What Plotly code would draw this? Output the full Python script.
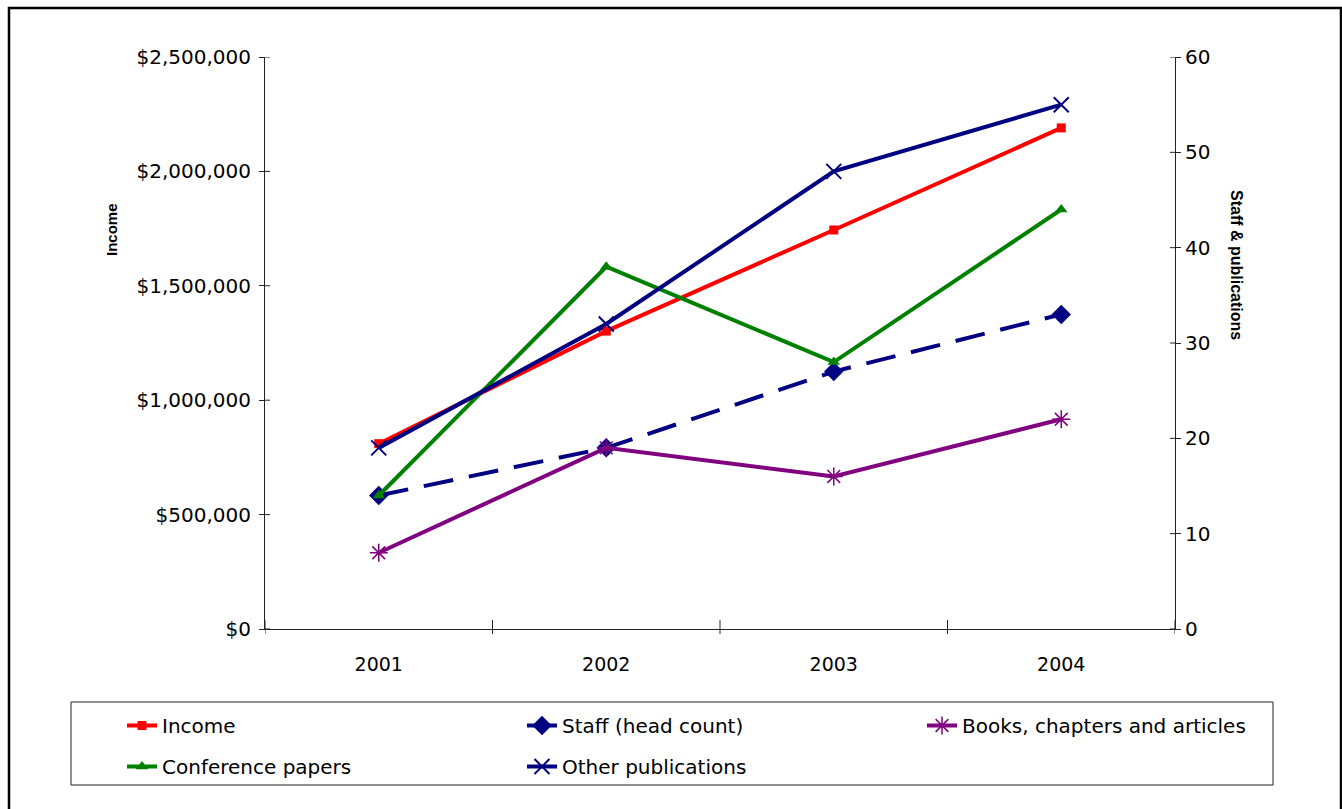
import plotly.graph_objects as go

years = [2001, 2002, 2003, 2004]
income = [810000, 1302000, 1744000, 2190000]
staff = [14, 19, 27, 33]
books = [8, 19, 16, 22]
conference = [14, 38, 28, 44]
other = [19, 32, 48, 55]

left_ticks = [0, 500000, 1000000, 1500000, 2000000, 2500000]
right_ticks = [0, 10, 20, 30, 40, 50, 60]
x_bounds = [2000.5, 2001.5, 2002.5, 2003.5, 2004.5]

FONT = "DejaVu Sans"
W, H = 1342, 809
L, R, T, B = 265, 167, 57, 180
pw = W - L - R
ph = H - T - B


def px_x(p):
    return (p - L) / pw


def px_y(p):
    return (H - B - p) / ph


fig = go.Figure()
fig.add_trace(go.Scatter(x=years, y=income, name="Income", mode="lines+markers", legend="legend",
                         line=dict(color="#FF0000", width=4),
                         marker=dict(symbol="square", size=9, color="#FF0000")))
fig.add_trace(go.Scatter(x=years, y=staff, name="Staff (head count)", mode="lines+markers", yaxis="y2",
                         legend="legend",
                         line=dict(color="#000080", width=4, dash="30px,16px"),
                         marker=dict(symbol="diamond", size=15, color="#000080")))
fig.add_trace(go.Scatter(x=years, y=books, name="Books, chapters and articles", mode="lines+markers", yaxis="y2",
                         legend="legend3",
                         line=dict(color="#800080", width=4),
                         marker=dict(symbol="asterisk-open", size=15, color="#800080",
                                     line=dict(color="#800080", width=1.5))))
fig.add_trace(go.Scatter(x=years, y=conference, name="Conference papers", mode="lines+markers", yaxis="y2",
                         legend="legend2",
                         line=dict(color="#008000", width=4),
                         marker=dict(symbol="triangle-up", size=11, color="#008000")))
fig.add_trace(go.Scatter(x=years, y=other, name="Other publications", mode="lines+markers", yaxis="y2",
                         legend="legend2",
                         line=dict(color="#000080", width=4),
                         marker=dict(symbol="x-thin-open", size=15, color="#000080",
                                     line=dict(color="#000080", width=2))))

shapes = []
# outer chart border
shapes.append(dict(type="rect", xref="paper", yref="paper",
                   x0=px_x(9), x1=px_x(1341), y0=px_y(812), y1=px_y(8),
                   line=dict(color="black", width=2.5), fillcolor="rgba(0,0,0,0)", layer="below"))
# legend box
shapes.append(dict(type="rect", xref="paper", yref="paper",
                   x0=px_x(71), x1=px_x(1273), y0=px_y(785), y1=px_y(702),
                   line=dict(color="#222", width=1), fillcolor="rgba(0,0,0,0)", layer="below"))
# inside halves of cross ticks on left/right axes
for v in left_ticks:
    shapes.append(dict(type="line", xref="paper", yref="y", x0=0, x1=5 / pw, y0=v, y1=v,
                       line=dict(color="#222", width=1)))
for v in right_ticks:
    shapes.append(dict(type="line", xref="paper", yref="y2", x0=1, x1=1 - 5 / pw, y0=v, y1=v,
                       line=dict(color="#222", width=1)))
for v in x_bounds:
    shapes.append(dict(type="line", xref="x", yref="paper", x0=v, x1=v, y0=-5 / ph, y1=9 / ph,
                       line=dict(color="#222", width=1)))

legend_common = dict(orientation="h", xanchor="left", yanchor="top", borderwidth=0,
                     bgcolor="rgba(0,0,0,0)", entrywidth=355, entrywidthmode="pixels",
                     font=dict(family=FONT, size=20, color="black"))

fig.update_layout(
    width=W, height=H,
    margin=dict(l=L, r=R, t=T, b=B),
    paper_bgcolor="white", plot_bgcolor="white",
    font=dict(family=FONT, size=19, color="black"),
    showlegend=True,
    xaxis=dict(range=[2000.5, 2004.5], tickvals=years, ticktext=[str(y) for y in years],
               showgrid=False, zeroline=False, showline=True, linecolor="#222", linewidth=1,
               ticks="", tickfont=dict(size=19), ticklabelstandoff=18),
    yaxis=dict(range=[0, 2500000], tickvals=left_ticks, ticktext=["&#36;" + f"{v:,}" for v in left_ticks],
               showgrid=False, zeroline=False, showline=True, linecolor="#222", linewidth=1,
               ticks="outside", ticklen=5, tickcolor="#222", tickfont=dict(size=20),
               ticklabelstandoff=4),
    yaxis2=dict(range=[0, 60], tickvals=right_ticks, overlaying="y", side="right",
                showgrid=False, zeroline=False, showline=True, linecolor="#222", linewidth=1,
                ticks="outside", ticklen=5, tickcolor="#222", tickfont=dict(size=20)),
    legend=dict(x=px_x(122), y=px_y(706), **legend_common),
    legend3=dict(x=px_x(922), y=px_y(706), **legend_common),
    legend2=dict(x=px_x(122), y=px_y(747), **legend_common),
    shapes=shapes,
    annotations=[
        dict(text="<b>Income</b>", xref="paper", yref="paper", x=px_x(112), y=px_y(230),
             xanchor="center", yanchor="middle",
             textangle=-90, showarrow=False, font=dict(family="Liberation Sans", size=15)),
        dict(text="<b>Staff &amp; publications</b>", xref="paper", yref="paper",
             x=px_x(1237), y=px_y(265), xanchor="center", yanchor="middle",
             textangle=90, showarrow=False, font=dict(family="Liberation Sans", size=16)),
    ],
)

fig.write_html("out.html")
